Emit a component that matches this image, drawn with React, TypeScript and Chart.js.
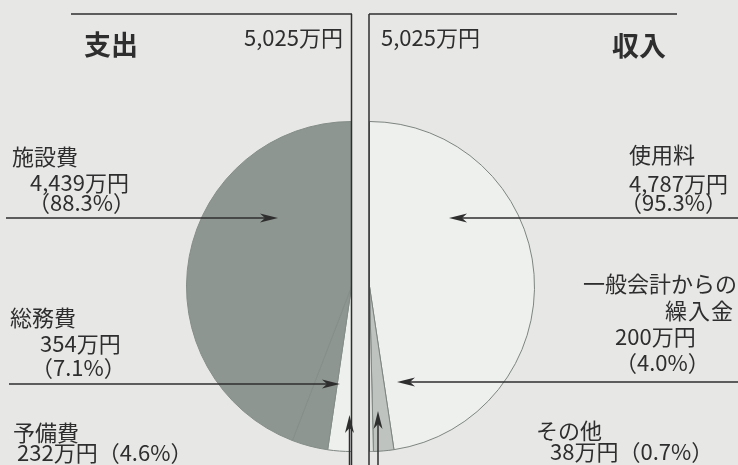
import React, { useEffect, useRef } from 'react';
import { Chart, registerables } from 'chart.js';

Chart.register(...registerables);

const W = 738;
const H = 465;

// ---- data ----
const expenseTitle = '支出';
const expenseLabels = ['施設費', '総務費', '予備費'];
const expenseValues = [4439, 354, 232];
const expenseShares = [88.3, 7.1, 4.6];
const expenseTotal = 5025;

const incomeTitle = '収入';
const incomeLabels = ['使用料', '一般会計からの繰入金', 'その他'];
const incomeValues = [4787, 200, 38];
const incomeShares = [95.3, 4.0, 0.7];
const incomeTotal = 5025;

// ---- styles ----
const expenseColors = ['#8d9691', '#8d9691', '#eef0ee'];
const expenseBorders = ['#848d88', '#848d88', '#7d8480'];
const incomeColors = ['#eef0ee', '#bfc3c0', '#dde0dd'];
const BG = '#e7e8e6';
const INK = '#2e2e2e';
const FONT = "'Noto Sans CJK JP', 'Noto Sans', sans-serif";
const BODY = 22;

const man = (v: number) => `${v.toLocaleString('en-US')}万円`;
const pct = (s: number) => `（${s.toFixed(1)}%）`;

type Txt = { t: string; x: number; y: number; a?: 'l' | 'r' | 'c'; s?: number; b?: boolean; ls?: number };

const texts: Txt[] = [
  { t: expenseTitle, x: 111, y: 43, a: 'c', s: 27, b: true },
  { t: man(expenseTotal), x: 343, y: 36, a: 'r' },
  { t: expenseLabels[0], x: 12, y: 155 },
  { t: man(expenseValues[0]), x: 30, y: 181 },
  { t: pct(expenseShares[0]), x: 28, y: 201 },
  { t: expenseLabels[1], x: 10, y: 316 },
  { t: man(expenseValues[1]), x: 40, y: 342 },
  { t: pct(expenseShares[1]), x: 31, y: 366 },
  { t: expenseLabels[2], x: 13, y: 431 },
  { t: man(expenseValues[2]) + pct(expenseShares[2]), x: 17, y: 451 },

  { t: man(incomeTotal), x: 381, y: 36 },
  { t: incomeTitle, x: 639, y: 44, a: 'c', s: 27, b: true },
  { t: incomeLabels[0], x: 629, y: 153 },
  { t: man(incomeValues[0]), x: 629, y: 182 },
  { t: pct(incomeShares[0]), x: 620, y: 201 },
  { t: incomeLabels[1].slice(0, 7), x: 737, y: 282, a: 'r' },
  { t: incomeLabels[1].slice(7), x: 734, y: 309, a: 'r', ls: 1 },
  { t: man(incomeValues[1]), x: 615, y: 335 },
  { t: pct(incomeShares[1]), x: 615, y: 361 },
  { t: incomeLabels[2], x: 536, y: 429 },
  { t: man(incomeValues[2]) + pct(incomeShares[2]), x: 550, y: 450 },
];

function drawArrow(ctx: CanvasRenderingContext2D, x1: number, y1: number, x2: number, y2: number) {
  const ang = Math.atan2(y2 - y1, x2 - x1);
  const len = 18;
  const hw = 4.5;
  ctx.beginPath();
  ctx.moveTo(x1, y1);
  ctx.lineTo(x2 - Math.cos(ang) * 6, y2 - Math.sin(ang) * 6);
  ctx.stroke();
  const bx = x2 - Math.cos(ang) * len;
  const by = y2 - Math.sin(ang) * len;
  const nx = x2 - Math.cos(ang) * (len - 5);
  const ny = y2 - Math.sin(ang) * (len - 5);
  const px = -Math.sin(ang) * hw;
  const py = Math.cos(ang) * hw;
  ctx.beginPath();
  ctx.moveTo(x2, y2);
  ctx.lineTo(bx + px, by + py);
  ctx.lineTo(nx, ny);
  ctx.lineTo(bx - px, by - py);
  ctx.closePath();
  ctx.fill();
}

const framePlugin = {
  id: 'frames',
  afterDraw(chart: any) {
    const ctx: CanvasRenderingContext2D = chart.ctx;
    ctx.save();
    ctx.strokeStyle = INK;
    ctx.fillStyle = INK;
    ctx.lineWidth = 1.5;
    const ln = (a: number, b: number, c: number, d: number) => {
      ctx.beginPath();
      ctx.moveTo(a, b);
      ctx.lineTo(c, d);
      ctx.stroke();
    };
    ln(71, 14, 352, 14);
    ln(351.5, 14, 351.5, H);
    ln(369, 14, 677, 14);
    ln(369, 14, 369, H);
    drawArrow(ctx, 6, 218, 278, 218);
    drawArrow(ctx, W, 218, 449, 218);
    drawArrow(ctx, 9, 384, 340, 384);
    drawArrow(ctx, W, 382, 397, 382);
    drawArrow(ctx, 349.5, H, 349.5, 415);
    drawArrow(ctx, 378, H, 378, 411);
    ctx.restore();
  },
};

export default function App() {
  const leftRef = useRef<HTMLCanvasElement>(null);
  const rightRef = useRef<HTMLCanvasElement>(null);

  useEffect(() => {
    const common = {
      responsive: false,
      animation: false as const,
      devicePixelRatio: 1,
      plugins: { legend: { display: false }, tooltip: { enabled: false } },
    };
    // left semicircle drawn clockwise from the bottom
    const left = new Chart(leftRef.current!, {
      type: 'pie',
      data: {
        labels: [...expenseLabels].reverse(),
        datasets: [
          {
            data: [...expenseValues].reverse(),
            backgroundColor: [...expenseColors].reverse(),
            borderColor: [...expenseBorders].reverse(),
            borderWidth: 1,
          },
        ],
      },
      options: {
        ...common,
        rotation: 180,
        circumference: 180,
        layout: { padding: { left: 186, right: W - 352, top: 121, bottom: H - 452 } },
      },
    });
    const right = new Chart(rightRef.current!, {
      type: 'pie',
      data: {
        labels: incomeLabels,
        datasets: [
          {
            data: incomeValues,
            backgroundColor: incomeColors,
            borderColor: '#7d8480',
            borderWidth: 1,
          },
        ],
      },
      options: {
        ...common,
        rotation: 0,
        circumference: 180,
        layout: { padding: { left: 369, right: W - 535, top: 121, bottom: H - 452 } },
      },
      plugins: [framePlugin],
    });
    return () => {
      left.destroy();
      right.destroy();
    };
  }, []);

  return (
    <div
      style={{
        position: 'fixed',
        left: 0,
        top: 0,
        width: W,
        height: H,
        background: BG,
        overflow: 'hidden',
        fontFamily: FONT,
        color: INK,
      }}
    >
      <canvas ref={leftRef} width={W} height={H} style={{ position: 'absolute', left: 0, top: 0 }} />
      <canvas ref={rightRef} width={W} height={H} style={{ position: 'absolute', left: 0, top: 0 }} />
      {texts.map((d, i) => {
        const s = d.s ?? BODY;
        const st: React.CSSProperties = {
          position: 'absolute',
          top: d.y,
          fontSize: s,
          fontWeight: d.b ? 700 : 400,
          lineHeight: 1,
          whiteSpace: 'nowrap',
          letterSpacing: d.ls ?? 0,
        };
        if (d.a === 'r') {
          st.right = W - d.x;
          st.transform = 'translateY(-50%)';
        } else if (d.a === 'c') {
          st.left = d.x;
          st.transform = 'translate(-50%, -50%)';
        } else {
          st.left = d.x;
          st.transform = 'translateY(-50%)';
        }
        return (
          <div key={i} style={st}>
            {d.t}
          </div>
        );
      })}
    </div>
  );
}
